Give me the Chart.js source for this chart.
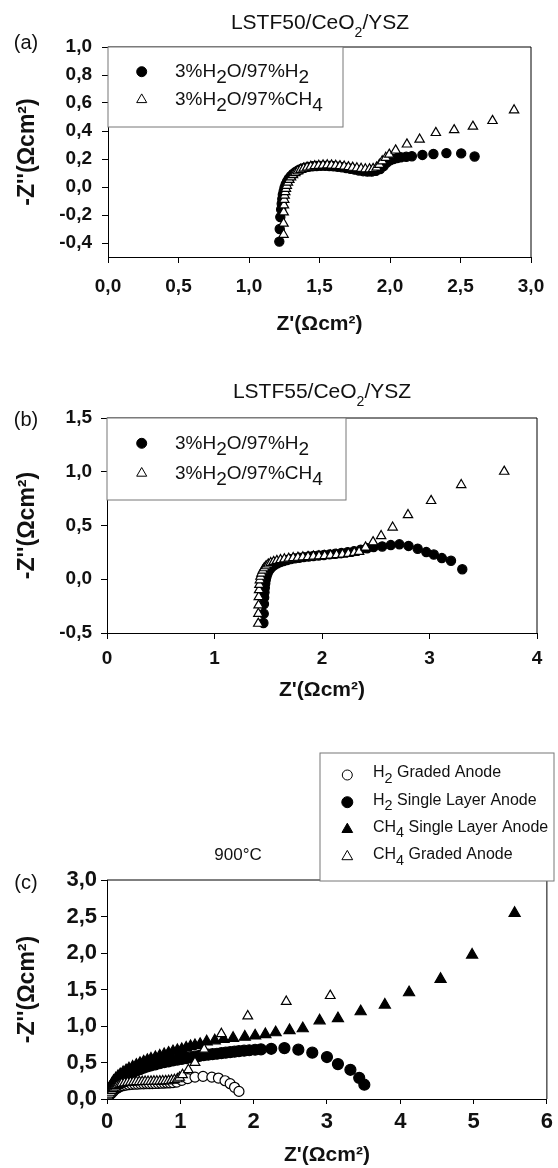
<!DOCTYPE html>
<html>
<head>
<meta charset="utf-8">
<script src="https://cdn.jsdelivr.net/npm/chart.js@4.4.0/dist/chart.umd.min.js"></script>
<style>
  html, body { margin: 0; padding: 0; background: #fff; }
  body { width: 558px; height: 1168px; position: relative; overflow: hidden; }
  canvas { position: absolute; left: 0; }
</style>
</head>
<body>
<canvas id="chartA" width="558" height="345" style="top:0px"></canvas>
<canvas id="chartB" width="558" height="375" style="top:345px"></canvas>
<canvas id="chartC" width="558" height="448" style="top:720px"></canvas>
<script>
// (a) LSTF50/CeO2/YSZ  -- [Z', -Z'']
const aH2 = [
  [1.215,-0.39],[1.218,-0.30],[1.222,-0.215],[1.228,-0.16],[1.232,-0.12],[1.236,-0.085],[1.240,-0.055],
  [1.246,-0.03],[1.252,-0.005],[1.260,0.018],[1.270,0.040],[1.282,0.060],[1.296,0.078],[1.312,0.094],
  [1.330,0.108],[1.350,0.120],[1.372,0.130],[1.396,0.138],[1.422,0.144],[1.450,0.148],[1.480,0.150],
  [1.510,0.151],[1.540,0.151],[1.570,0.150],[1.600,0.148],[1.630,0.145],[1.660,0.141],[1.690,0.136],
  [1.720,0.130],[1.750,0.124],[1.780,0.118],[1.810,0.113],[1.840,0.110],[1.870,0.110],[1.900,0.115],
  [1.930,0.128],[1.955,0.150],[1.977,0.175],[2.000,0.190],[2.024,0.200],[2.050,0.207],[2.077,0.212],
  [2.115,0.216],[2.155,0.220],[2.230,0.229],[2.308,0.236],[2.400,0.242],[2.505,0.240],[2.600,0.218]
];
const aCH4 = [
  [1.245,-0.34],[1.245,-0.26],[1.246,-0.18],[1.248,-0.13],[1.250,-0.09],[1.253,-0.06],[1.257,-0.035],
  [1.262,-0.012],[1.268,0.010],[1.276,0.032],[1.286,0.052],[1.298,0.070],[1.312,0.086],[1.328,0.100],
  [1.346,0.113],[1.366,0.124],[1.388,0.133],[1.412,0.140],[1.438,0.146],[1.466,0.150],[1.495,0.153],
  [1.525,0.155],[1.555,0.156],[1.585,0.155],[1.615,0.153],[1.645,0.150],[1.675,0.147],[1.705,0.143],
  [1.735,0.139],[1.765,0.135],[1.795,0.131],[1.825,0.128],[1.855,0.127],[1.880,0.130],[1.905,0.140],
  [1.925,0.160],[1.945,0.185],[1.970,0.210],[1.995,0.232],[2.040,0.262],[2.120,0.305],[2.210,0.340],
  [2.325,0.387],[2.455,0.407],[2.588,0.432],[2.727,0.473],[2.880,0.549]
];

// (b) LSTF55/CeO2/YSZ
const bH2 = [
  [1.455,-0.407],[1.458,-0.32],[1.460,-0.23],[1.462,-0.17],[1.465,-0.12],[1.468,-0.08],[1.472,-0.04],
  [1.477,-0.005],[1.484,0.025],[1.493,0.053],[1.505,0.078],[1.520,0.100],[1.538,0.118],[1.560,0.134],
  [1.585,0.148],[1.612,0.160],[1.642,0.170],[1.675,0.179],[1.710,0.187],[1.748,0.194],[1.788,0.200],
  [1.830,0.206],[1.875,0.211],[1.920,0.216],[1.968,0.221],[2.018,0.226],[2.070,0.231],[2.124,0.237],
  [2.180,0.244],[2.238,0.252],[2.298,0.262],[2.360,0.275],[2.420,0.288],[2.480,0.300],[2.560,0.305],
  [2.640,0.318],[2.720,0.325],[2.805,0.310],[2.890,0.284],[2.970,0.253],[3.040,0.230],[3.115,0.197],
  [3.200,0.172],[3.305,0.093]
];
const bCH4 = [
  [1.407,-0.412],[1.408,-0.32],[1.410,-0.242],[1.412,-0.164],[1.415,-0.10],[1.418,-0.05],[1.422,-0.008],
  [1.428,0.025],[1.437,0.055],[1.449,0.082],[1.463,0.104],[1.480,0.123],[1.500,0.139],[1.523,0.152],
  [1.550,0.163],[1.580,0.172],[1.614,0.180],[1.650,0.187],[1.690,0.193],[1.732,0.198],[1.776,0.202],
  [1.822,0.206],[1.870,0.209],[1.920,0.212],[1.972,0.215],[2.025,0.218],[2.080,0.222],[2.135,0.226],
  [2.190,0.231],[2.245,0.238],[2.300,0.247],[2.345,0.256],[2.405,0.297],[2.475,0.346],[2.550,0.403],
  [2.657,0.483],[2.800,0.598],[3.015,0.730],[3.295,0.878],[3.695,1.002]
];

// (c) 900°C
const cH2Graded = [
  [0.005,0.0],[0.015,0.02],[0.03,0.045],[0.05,0.07],[0.07,0.09],[0.09,0.11],[0.12,0.135],[0.15,0.155],
  [0.18,0.17],[0.22,0.182],[0.26,0.19],[0.30,0.196],[0.34,0.20],[0.38,0.203],[0.42,0.205],[0.46,0.207],
  [0.50,0.208],[0.54,0.209],[0.58,0.21],[0.62,0.211],[0.66,0.212],[0.70,0.214],[0.74,0.216],[0.78,0.218],
  [0.82,0.22],[0.86,0.222],[0.90,0.225],[0.95,0.232],[1.02,0.255],[1.10,0.28],[1.20,0.30],[1.31,0.31],
  [1.43,0.30],[1.52,0.287],[1.61,0.25],[1.68,0.21],[1.74,0.16],[1.80,0.104]
];
const cH2Single = [
  [0.0,0.0],[0.01,0.04],[0.02,0.07],[0.035,0.10],[0.05,0.13],[0.07,0.16],[0.09,0.19],[0.12,0.22],
  [0.15,0.25],[0.18,0.275],[0.22,0.30],[0.26,0.325],[0.30,0.345],[0.35,0.37],[0.40,0.39],[0.45,0.41],
  [0.50,0.43],[0.55,0.445],[0.60,0.46],[0.66,0.475],[0.72,0.49],[0.78,0.505],[0.84,0.515],[0.90,0.528],
  [0.96,0.54],[1.02,0.55],[1.08,0.56],[1.14,0.57],[1.20,0.58],[1.26,0.59],[1.32,0.60],[1.38,0.607],
  [1.44,0.614],[1.50,0.62],[1.56,0.628],[1.62,0.635],[1.68,0.642],[1.74,0.648],[1.80,0.655],[1.87,0.662],
  [1.94,0.668],[2.02,0.675],[2.10,0.68],[2.24,0.688],[2.42,0.697],[2.61,0.676],[2.80,0.635],[3.00,0.575],
  [3.15,0.478],[3.32,0.40],[3.44,0.29],[3.51,0.196]
];
const cCH4Single = [
  [0.0,0.0],[0.01,0.05],[0.02,0.09],[0.035,0.13],[0.05,0.17],[0.07,0.21],[0.09,0.245],[0.12,0.28],
  [0.15,0.31],[0.18,0.335],[0.22,0.365],[0.26,0.39],[0.30,0.415],[0.35,0.44],[0.40,0.465],[0.45,0.49],
  [0.50,0.51],[0.55,0.53],[0.60,0.55],[0.66,0.57],[0.72,0.59],[0.78,0.61],[0.84,0.63],[0.90,0.65],
  [0.96,0.665],[1.02,0.68],[1.08,0.70],[1.14,0.72],[1.20,0.735],[1.27,0.75],[1.36,0.785],[1.47,0.80],
  [1.59,0.82],[1.72,0.834],[1.88,0.85],[2.02,0.866],[2.16,0.885],[2.30,0.91],[2.49,0.94],[2.67,0.965],
  [2.90,1.073],[3.15,1.103],[3.46,1.198],[3.79,1.29],[4.12,1.458],[4.55,1.642],[4.98,1.974],[5.56,2.545]
];
const cCH4Graded = [
  [0.0,0.0],[0.01,0.02],[0.02,0.04],[0.035,0.065],[0.05,0.09],[0.07,0.115],[0.09,0.14],[0.115,0.16],
  [0.14,0.18],[0.17,0.195],[0.20,0.21],[0.24,0.22],[0.28,0.225],[0.32,0.229],[0.36,0.232],[0.40,0.234],
  [0.44,0.236],[0.48,0.237],[0.52,0.238],[0.56,0.239],[0.60,0.24],[0.64,0.241],[0.68,0.242],[0.72,0.243],
  [0.76,0.245],[0.80,0.247],[0.84,0.25],[0.88,0.255],[0.92,0.262],[0.96,0.275],[0.99,0.295],[1.03,0.33],
  [1.11,0.40],[1.20,0.50],[1.325,0.68],[1.56,0.893],[1.92,1.135],[2.445,1.335],[3.045,1.415]
];

const FONT = '"Liberation Sans", Arial, Helvetica, sans-serif';
const SUB_DIGITS = { '\u2082': '2', '\u2084': '4' };

// draws a label where subscript digits are lowered (and optionally shrunk)
function drawRichText(ctx, text, x, y, st) {
  const runs = [];
  for (const ch of text) {
    const isSub = ch in SUB_DIGITS;
    const t = isSub ? SUB_DIGITS[ch] : ch;
    const last = runs[runs.length - 1];
    if (last && last.sub === isSub) last.t += t;
    else runs.push({ t: t, sub: isSub });
  }
  const fontFor = sub => `${st.weight || 'normal'} ${sub ? st.size * st.subScale : st.size}px ${FONT}`;
  let total = 0;
  runs.forEach(r => { ctx.font = fontFor(r.sub); r.w = ctx.measureText(r.t).width; total += r.w; });
  let cx = st.align === 'center' ? x - total / 2 : x;
  ctx.textAlign = 'left';
  ctx.textBaseline = 'middle';
  ctx.fillStyle = '#111';
  runs.forEach(r => {
    ctx.font = fontFor(r.sub);
    ctx.fillText(r.t, cx, y + (r.sub ? st.subDrop : 0));
    cx += r.w;
  });
}

// frame, boxed legend, title and panel tag
const panelDecor = {
  id: 'panelDecor',
  beforeDatasetsDraw(chart) {
    const { ctx, chartArea: a } = chart;
    ctx.save();
    ctx.strokeStyle = '#000';
    ctx.lineWidth = 1;
    ctx.beginPath();
    ctx.moveTo(a.left, a.top);
    ctx.lineTo(a.right, a.top);
    ctx.lineTo(a.right, a.bottom);
    ctx.stroke();
    ctx.restore();
  },
  afterDatasetsDraw(chart, args, opts) {
    const ctx = chart.ctx;
    const lg = opts.legend;
    ctx.save();
    ctx.fillStyle = '#fff';
    ctx.fillRect(lg.x, lg.y, lg.w, lg.h);
    ctx.strokeStyle = '#777';
    ctx.lineWidth = 1;
    ctx.strokeRect(lg.x, lg.y, lg.w, lg.h);
    chart.data.datasets.forEach((ds, i) => {
      const ry = lg.firstRow + i * lg.rowGap;
      ctx.fillStyle = ds.backgroundColor;
      ctx.strokeStyle = '#000';
      ctx.lineWidth = 1;
      Chart.helpers.drawPoint(ctx, { pointStyle: ds.pointStyle, radius: lg.radii[i], borderWidth: 1, rotation: 0 }, lg.markerX, ry);
      drawRichText(ctx, ds.label, lg.textX, ry + lg.textShift, { size: lg.size, subScale: lg.subScale, subDrop: lg.subDrop });
    });
    const t = opts.title;
    drawRichText(ctx, t.text, t.x, t.y, { size: t.size, subScale: 0.67, subDrop: 10, align: 'center' });
    drawRichText(ctx, opts.tag, 26, opts.tagY, { size: 20, align: 'center' });
    ctx.restore();
  }
};

const commaFmt = v => (Math.round(v * 10) / 10).toFixed(1).replace('.', ',');
const intFmt = v => String(Math.round(v));

function buildPanel(canvasId, cfg) {
  const ctx = document.getElementById(canvasId).getContext('2d');
  return new Chart(ctx, {
    type: 'scatter',
    data: {
      datasets: cfg.series.map(s => ({
        label: s.label,
        data: s.points.map(p => ({ x: p[0], y: p[1] })),
        pointStyle: s.style,
        pointRadius: s.radius,
        pointHoverRadius: s.radius,
        backgroundColor: s.fill,
        borderColor: '#000',
        borderWidth: 1.2,
        order: s.order
      }))
    },
    options: {
      responsive: false,
      animation: false,
      events: [],
      layout: { padding: cfg.padding },
      plugins: {
        legend: { display: false },
        tooltip: { enabled: false },
        panelDecor: cfg.decor
      },
      scales: {
        x: {
          type: 'linear',
          position: 'bottom',
          min: cfg.x.min,
          max: cfg.x.max,
          ticks: {
            stepSize: cfg.x.step,
            callback: cfg.x.fmt,
            includeBounds: false,
            maxRotation: 0,
            padding: cfg.x.labelPad,
            color: '#111',
            font: { family: FONT, size: cfg.tickSize, weight: 'bold' }
          },
          grid: { drawOnChartArea: false, tickLength: cfg.x.tickLen, color: '#000' },
          border: { display: true, color: '#000', width: 1 },
          title: {
            display: true,
            text: "Z'(\u03A9cm\u00B2)",
            color: '#111',
            padding: 0,
            font: { family: FONT, size: 21, weight: 'bold' }
          },
          afterFit: s => { s.height = cfg.x.height; }
        },
        y: {
          type: 'linear',
          min: cfg.y.min,
          max: cfg.y.max,
          ticks: {
            stepSize: cfg.y.step,
            callback: commaFmt,
            includeBounds: false,
            padding: cfg.y.labelPad,
            color: '#111',
            font: { family: FONT, size: cfg.tickSize, weight: 'bold' }
          },
          grid: { drawOnChartArea: false, tickLength: 6, color: '#000' },
          border: { display: true, color: '#000', width: 1 },
          title: {
            display: true,
            text: "-Z''(\u03A9cm\u00B2)",
            color: '#111',
            padding: { top: 14, bottom: 0 },
            font: { family: FONT, size: 23, weight: 'bold' }
          },
          afterFit: s => { s.width = cfg.y.width; }
        }
      }
    },
    plugins: [panelDecor]
  });
}

buildPanel('chartA', {
  padding: { top: 47, left: 0, right: 27, bottom: 8 },
  tickSize: 19,
  x: { min: 0, max: 3, step: 0.5, fmt: commaFmt, labelPad: 12, tickLen: 6, height: 80 },
  y: { min: -0.5, max: 1.0, step: 0.2, labelPad: 10, width: 108 },
  series: [
    { label: '3%H\u2082O/97%H\u2082', points: aH2, style: 'circle', radius: 4.6, fill: '#000', order: 1 },
    { label: '3%H\u2082O/97%CH\u2084', points: aCH4, style: 'triangle', radius: 5.4, fill: '#fff', order: 0 }
  ],
  decor: {
    title: { text: 'LSTF50/CeO\u2082/YSZ', x: 320, y: 23, size: 21 },
    tag: '(a)', tagY: 43,
    legend: { x: 108, y: 47, w: 235, h: 80, firstRow: 71.7, rowGap: 28, markerX: 141.7, textX: 175,
      textShift: 0, radii: [5, 5.8], size: 19, subScale: 1, subDrop: 6 }
  }
});

buildPanel('chartB', {
  padding: { top: 73, left: 0, right: 21, bottom: 17 },
  tickSize: 19,
  x: { min: 0, max: 4, step: 1, fmt: intFmt, labelPad: 8, tickLen: 6, height: 70 },
  y: { min: -0.5, max: 1.5, step: 0.5, labelPad: 9, width: 107 },
  series: [
    { label: '3%H\u2082O/97%H\u2082', points: bH2, style: 'circle', radius: 4.6, fill: '#000', order: 1 },
    { label: '3%H\u2082O/97%CH\u2084', points: bCH4, style: 'triangle', radius: 5.4, fill: '#fff', order: 0 }
  ],
  decor: {
    title: { text: 'LSTF55/CeO\u2082/YSZ', x: 322, y: 47, size: 21 },
    tag: '(b)', tagY: 75,
    legend: { x: 107, y: 73, w: 239, h: 82, firstRow: 98.3, rowGap: 30, markerX: 141.7, textX: 175,
      textShift: 0, radii: [5, 5.8], size: 19, subScale: 1, subDrop: 6 }
  }
});

buildPanel('chartC', {
  padding: { top: 160, left: 0, right: 10, bottom: 0 },
  tickSize: 22,
  x: { min: 0, max: 6, step: 1, fmt: intFmt, labelPad: 5, tickLen: 5, height: 69 },
  y: { min: 0, max: 3, step: 0.5, labelPad: 4, width: 107 },
  series: [
    { label: 'H\u2082 Graded Anode', points: cH2Graded, style: 'circle', radius: 5, fill: '#fff', order: 1 },
    { label: 'H\u2082 Single Layer Anode', points: cH2Single, style: 'circle', radius: 5.5, fill: '#000', order: 3 },
    { label: 'CH\u2084 Single Layer Anode', points: cCH4Single, style: 'triangle', radius: 6.4, fill: '#000', order: 2 },
    { label: 'CH\u2084 Graded Anode', points: cCH4Graded, style: 'triangle', radius: 5.6, fill: '#fff', order: 0 }
  ],
  decor: {
    title: { text: '900\u00B0C', x: 238, y: 135, size: 17 },
    tag: '(c)', tagY: 163,
    legend: { x: 320, y: 33, w: 234, h: 128, firstRow: 55, rowGap: 27.2, markerX: 347.3, textX: 373,
      textShift: -2, radii: [5, 5.5, 6.2, 6.2], size: 16, subScale: 0.9, subDrop: 6 }
  }
});
</script>
</body>
</html>
